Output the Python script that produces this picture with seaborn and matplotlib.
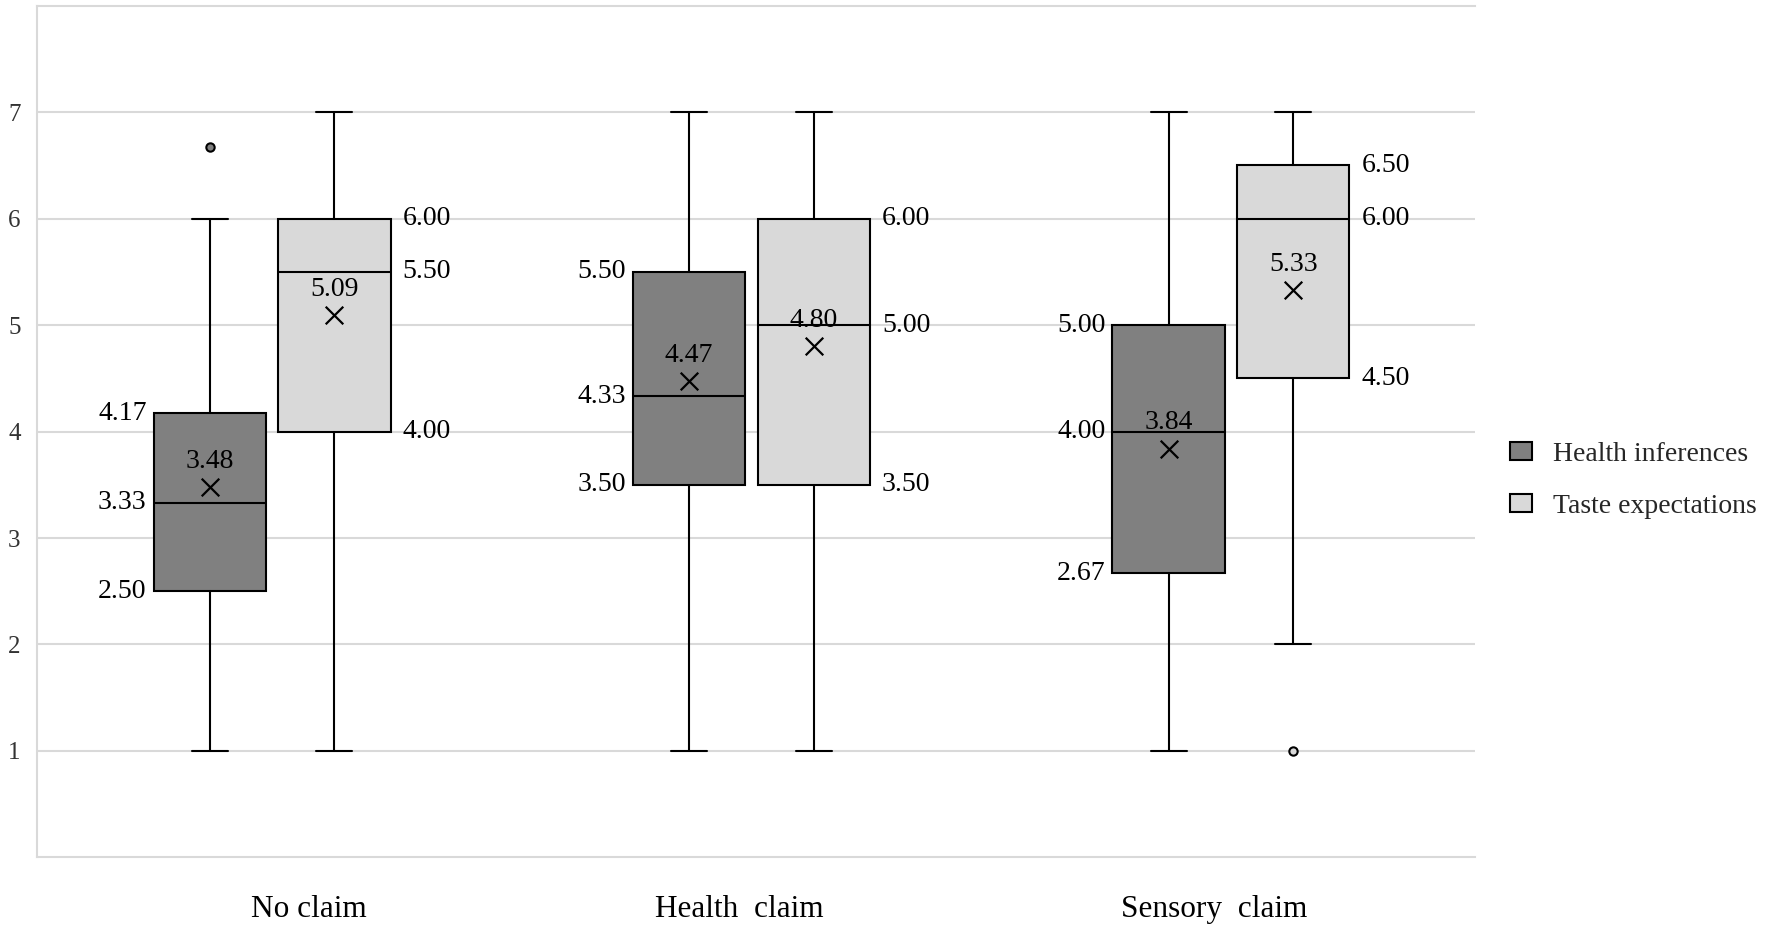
import matplotlib
matplotlib.use("Agg")
import matplotlib.pyplot as plt
from matplotlib.patches import Patch
import seaborn as sns

# summary stats
claims = ["No claim", "Health  claim", "Sensory  claim"]
series = ["Health inferences", "Taste expectations"]

health_low = [1.0, 1.0, 1.0]
health_q1 = [2.50, 3.50, 2.67]
health_med = [3.33, 4.33, 4.00]
health_q3 = [4.17, 5.50, 5.00]
health_high = [6.0, 7.0, 7.0]
health_mean = [3.48, 4.47, 3.84]
health_out = [[6.67], [], []]

taste_low = [1.0, 1.0, 2.0]
taste_q1 = [4.00, 3.50, 4.50]
taste_med = [5.50, 5.00, 6.00]
taste_q3 = [6.00, 6.00, 6.50]
taste_high = [7.0, 7.0, 7.0]
taste_mean = [5.09, 4.80, 5.33]
taste_out = [[], [], [1.0]]

sns.set_theme(style="whitegrid")
plt.rcParams['font.family'] = ['Liberation Serif', 'DejaVu Serif']

colors = ["#808080", "#d9d9d9"]
offsets = [-0.14, 0.12]
box_w = 0.234
label_shift = [0.067, -0.035, -0.045]  # category labels aren't quite centred

fig, ax = plt.subplots(figsize=(17.72, 9.31), dpi=100)
fig.subplots_adjust(left=0.021, right=0.8326, top=0.994, bottom=0.079)

groups = [
    (health_low, health_q1, health_med, health_q3, health_high, health_mean, health_out),
    (taste_low, taste_q1, taste_med, taste_q3, taste_high, taste_mean, taste_out),
]

for s, (lo, q1, med, q3, hi, mn, out) in enumerate(groups):
    stats = []
    for i in range(len(claims)):
        stats.append(dict(whislo=lo[i], q1=q1[i], med=med[i], q3=q3[i],
                          whishi=hi[i], mean=mn[i], fliers=out[i]))
    pos = [i + offsets[s] for i in range(len(claims))]
    ax.bxp(stats, positions=pos, widths=box_w, patch_artist=True,
           showmeans=False, manage_ticks=False, capwidths=box_w * 0.32,
           boxprops=dict(facecolor=colors[s], edgecolor="black", linewidth=1.5),
           whiskerprops=dict(color="black", linewidth=1.5),
           capprops=dict(color="black", linewidth=1.5),
           medianprops=dict(color="black", linewidth=1.5),
           flierprops=dict(marker="o", markersize=6, markerfacecolor=colors[s],
                           markeredgecolor="black", markeredgewidth=1.5))
    # mean markers
    sns.scatterplot(x=pos, y=mn, marker="x", s=160, color="black",
                    linewidth=1.6, ax=ax, zorder=5, legend=False)

    # value labels
    for i in range(len(claims)):
        for v in (q1[i], med[i], q3[i]):
            if s == 0:
                ax.text(pos[i] - box_w / 2 - 0.015, v, f"{v:.2f}", ha="right",
                        va="center", fontsize=20, color="black")
            else:
                ax.text(pos[i] + box_w / 2 + 0.025, v, f"{v:.2f}", ha="left",
                        va="center", fontsize=20, color="black")
        ax.text(pos[i], mn[i] + 0.24, f"{mn[i]:.2f}", ha="center", va="center",
                fontsize=20, color="black")

ax.set_xlim(-0.5, 2.5)
ax.set_ylim(0, 8)
ax.set_yticks([1, 2, 3, 4, 5, 6, 7])
ax.set_xticks([i + label_shift[i] for i in range(len(claims))])
ax.set_xticklabels(claims, fontsize=22.5)
ax.tick_params(axis="y", labelsize=18, length=0, pad=12, colors="#333333")
ax.tick_params(axis="x", length=0, pad=27, colors="black")
ax.grid(axis="x", visible=False)
ax.grid(axis="y", color="#d9d9d9", linewidth=1.5)
ax.set_axisbelow(True)
ax.spines["right"].set_visible(False)
for side in ["left", "bottom", "top"]:
    ax.spines[side].set_color("#d9d9d9")
    ax.spines[side].set_linewidth(1.5)

handles = [Patch(facecolor=c, edgecolor="black", linewidth=1.5) for c in colors]
fig.legend(handles, series, loc="center left", bbox_to_anchor=(0.838, 0.484),
           frameon=False, fontsize=20, handlelength=0.8, handleheight=0.62,
           handletextpad=0.75, labelspacing=0.95)

plt.savefig("out.png", dpi=100)
